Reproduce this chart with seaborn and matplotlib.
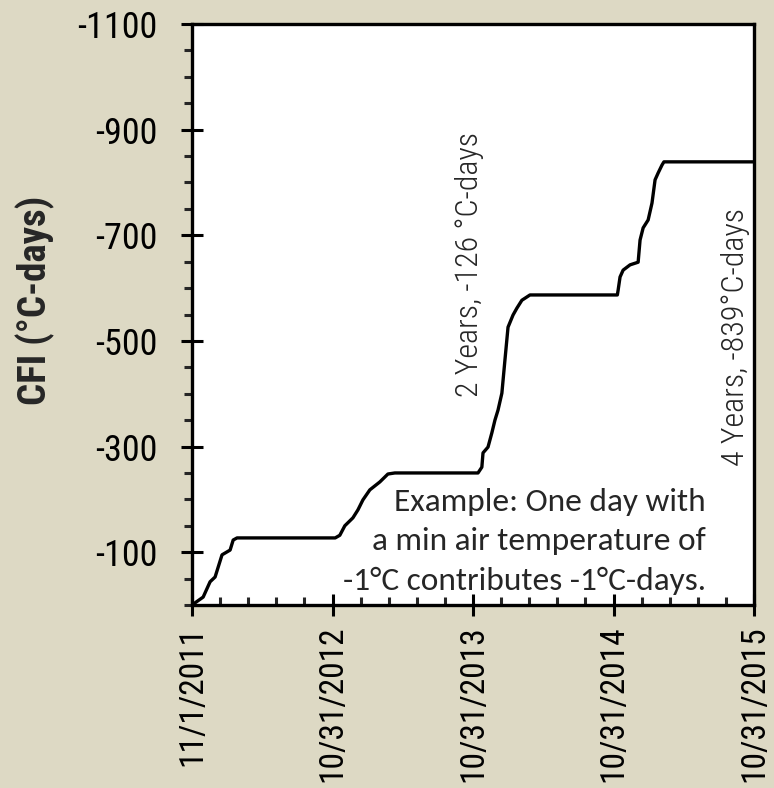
import matplotlib
matplotlib.use("Agg")
import matplotlib.pyplot as plt
from matplotlib.ticker import MultipleLocator, FixedLocator, AutoMinorLocator
import matplotlib.dates as mdates
import pandas as pd
import seaborn as sns

# days since 11/1/2011 and cumulative freezing index (deg C-days)
days = [0, 29, 47, 60, 78, 99, 107, 117, 372, 384, 397, 418, 431, 444, 462, 488, 509, 527,
        743, 753, 756, 769, 779, 787, 795, 805, 813, 821, 834, 844, 857, 878,
        1105, 1107, 1112, 1120, 1138, 1159, 1164, 1172, 1185, 1195, 1203, 1211, 1221, 1226, 1460]
cfi = [0, -15, -44, -53, -95, -104, -123, -127, -127, -132, -150, -165, -180, -199, -218, -233, -248, -250,
       -250, -261, -288, -299, -326, -350, -369, -401, -464, -526, -549, -562, -577, -587,
       -587, -596, -621, -634, -644, -649, -691, -714, -729, -761, -805, -818, -833, -839, -839]

tick_dates = ["2011-11-01", "2012-10-31", "2013-10-31", "2014-10-31", "2015-10-31"]
tick_labels = ["11/1/2011", "10/31/2012", "10/31/2013", "10/31/2014", "10/31/2015"]
y_ticks = [-100, -300, -500, -700, -900, -1100]

start = pd.Timestamp("2011-11-01")
df = pd.DataFrame({"date": start + pd.to_timedelta(days, unit="D"), "cfi": cfi})

bg = "#ddd9c4"
sns.set_theme(style="ticks")
plt.rcParams["font.family"] = ["Roboto Condensed", "DejaVu Sans"]

fig = plt.figure(figsize=(7.74, 7.88), dpi=100, facecolor=bg)
ax = fig.add_axes([192/774, 1 - 605/788, (754-192)/774, (605-24)/788])
ax.set_facecolor("white")

sns.lineplot(data=df, x="date", y="cfi", color="black", linewidth=2.4, ax=ax)

xt = [mdates.date2num(pd.Timestamp(d)) for d in tick_dates]
ax.set_xlim(xt[0], xt[-1])
ax.set_ylim(0, -1100)
ax.xaxis.set_major_locator(FixedLocator(xt))
ax.set_xticklabels(tick_labels, rotation=90, fontsize=24)
ax.xaxis.set_minor_locator(AutoMinorLocator(5))
ax.yaxis.set_major_locator(FixedLocator(y_ticks))
ax.set_yticklabels([str(v) for v in y_ticks], fontsize=26)
ax.yaxis.set_minor_locator(MultipleLocator(50))

ax.tick_params(axis="x", which="major", direction="inout", length=16, width=2.2, pad=7, colors="black")
ax.tick_params(axis="x", which="minor", direction="in", length=6, width=2.2)
ax.tick_params(axis="y", which="major", direction="inout", length=16, width=2.2, pad=17, colors="black")
ax.tick_params(axis="y", which="minor", direction="out", length=6, width=2.2)
for s in ax.spines.values():
    s.set_linewidth(2.4)
    s.set_color("black")

ax.set_xlabel("")
ax.set_ylabel("CFI (°C-days)", fontsize=28, fontweight="bold", va="center")
ax.yaxis.set_label_coords((35 - 192) / 562, (605 - 300) / 581)

d = lambda n: mdates.date2num(start + pd.Timedelta(days=n))
ax.text(d(722), -644, "2 Years, -126 °C-days", rotation=90, ha="center", va="center",
        fontsize=23, fontweight="light")
ax.text(d(1411), -507, "4 Years, -839°C-days", rotation=90, ha="center", va="center",
        fontsize=23, fontweight="light")
ax.text(d(1335), -120, "Example: One day with\na min air temperature of\n-1°C contributes -1°C-days.",
        ha="right", va="center", multialignment="right", fontsize=24, linespacing=1.5,
        family=["Carlito", "DejaVu Sans"])

fig.savefig("out.png", dpi=100, facecolor=bg)
